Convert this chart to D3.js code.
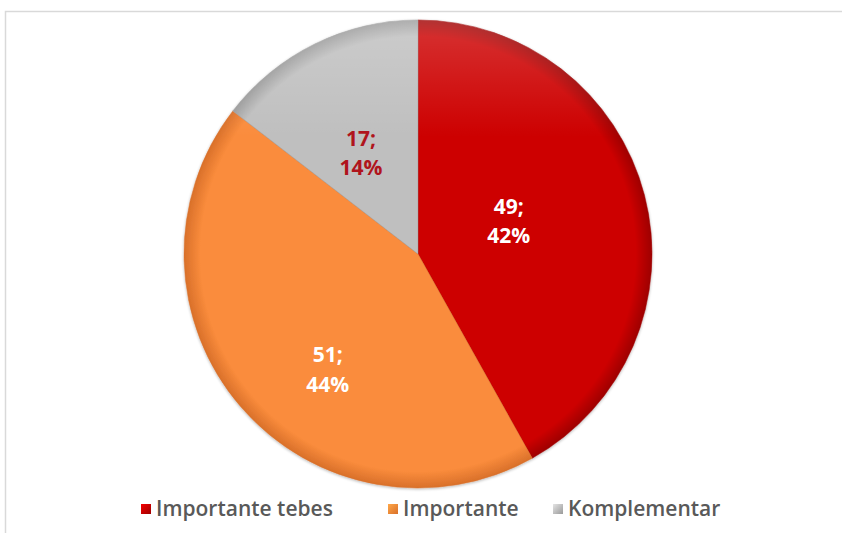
<!DOCTYPE html>
<html>
<head>
<meta charset="utf-8">
<script src="https://cdn.jsdelivr.net/npm/d3@7"></script>
<style>
  body { margin: 0; background: #fff; }
  svg { display: block; }
</style>
</head>
<body>
<div id="chart"></div>
<script>
// data
const categories = ["Importante tebes", "Importante", "Komplementar"];
const values = [49, 51, 17];
const percents = ["42%", "44%", "14%"];

// look
const baseColors = ["#cd0000", "#fa8c3c", "#bfbfbf"];
const rimColors = ["#9e0000", "#d9702a", "#9a9a9a"];
const labelColors = ["#ffffff", "#ffffff", "#b0141c"];
const labelRadius = [97, 146, 117];
const labelShift = [-6, -11, -3]; // degrees
const legendX = [141, 388, 553];

let width = 842, height = 533;
let cx = 418, cy = 254, radius = 234;

let svg = d3.select("#chart").append("svg")
    .attr("width", width).attr("height", height);

let defs = svg.append("defs");

// chart area frame
svg.append("rect")
    .attr("x", 5.5).attr("y", 11.5)
    .attr("width", 860).attr("height", 540)
    .attr("fill", "#fff")
    .attr("stroke", "#d9d9d9")
    .attr("stroke-width", 1.5);

// slice gradients (local coords, pie centre at 0,0)
baseColors.forEach((c, i) => {
    let g = defs.append("radialGradient")
        .attr("id", "grad" + i)
        .attr("gradientUnits", "userSpaceOnUse")
        .attr("cx", 0).attr("cy", 0).attr("r", radius);
    g.append("stop").attr("offset", "0%").attr("stop-color", c);
    g.append("stop").attr("offset", "93%").attr("stop-color", c);
    g.append("stop").attr("offset", "100%").attr("stop-color", rimColors[i]);

    let lg = defs.append("linearGradient")
        .attr("id", "leg" + i)
        .attr("x1", 0).attr("y1", 0).attr("x2", 1).attr("y2", 1);
    lg.append("stop").attr("offset", "0%").attr("stop-color", d3.color(c).brighter(0.5));
    lg.append("stop").attr("offset", "100%").attr("stop-color", rimColors[i]);
});

// light from the top
let hl = defs.append("linearGradient")
    .attr("id", "highlight")
    .attr("gradientUnits", "userSpaceOnUse")
    .attr("x1", 0).attr("y1", -radius).attr("x2", 0).attr("y2", radius);
hl.append("stop").attr("offset", "0%").attr("stop-color", "#fff").attr("stop-opacity", 0.2);
hl.append("stop").attr("offset", "25%").attr("stop-color", "#fff").attr("stop-opacity", 0);
hl.append("stop").attr("offset", "100%").attr("stop-color", "#fff").attr("stop-opacity", 0);

let shadow = defs.append("filter").attr("id", "shadow")
    .attr("x", "-10%").attr("y", "-10%").attr("width", "120%").attr("height", "120%");
shadow.append("feGaussianBlur").attr("in", "SourceAlpha").attr("stdDeviation", 1.5);
shadow.append("feOffset").attr("dx", 0).attr("dy", 1).attr("result", "b");
shadow.append("feComponentTransfer").append("feFuncA").attr("type", "linear").attr("slope", 0.3);
let merge = shadow.append("feMerge");
merge.append("feMergeNode");
merge.append("feMergeNode").attr("in", "SourceGraphic");

let pie = d3.pie().sort(null).value(d => d);
let arcs = pie(values);
let arc = d3.arc().innerRadius(0).outerRadius(radius);

let g = svg.append("g")
    .attr("transform", "translate(" + cx + "," + cy + ")");

g.append("g").attr("filter", "url(#shadow)")
  .selectAll(".slice")
    .data(arcs)
    .enter().append("path")
    .attr("class", "slice")
    .attr("d", arc)
    .attr("fill", (d, i) => "url(#grad" + i + ")")
    .attr("stroke", (d, i) => rimColors[i])
    .attr("stroke-opacity", 0.6)
    .attr("stroke-width", 0.8);

g.append("circle")
    .attr("r", radius)
    .attr("fill", "url(#highlight)");

// data labels
let labels = g.selectAll(".label")
    .data(arcs)
    .enter().append("text")
    .attr("class", "label")
    .attr("transform", (d, i) => {
        let a = (d.startAngle + d.endAngle) / 2 + labelShift[i] * Math.PI / 180;
        return "translate(" + labelRadius[i] * Math.sin(a) + "," + (-labelRadius[i] * Math.cos(a)) + ")";
    })
    .attr("text-anchor", "middle")
    .style("font-family", "'Open Sans', sans-serif")
    .style("font-weight", "bold")
    .style("font-size", "21px")
    .attr("fill", (d, i) => labelColors[i]);

labels.append("tspan").attr("x", 0).attr("dy", "-0.3em").text(d => d.data + ";");
labels.append("tspan").attr("x", 0).attr("dy", "1.42em").text((d, i) => percents[i]);

// legend
let legend = svg.append("g")
    .selectAll(".legend-item")
    .data(categories)
    .enter().append("g")
    .attr("class", "legend-item")
    .attr("transform", (d, i) => "translate(" + legendX[i] + ",509)");

legend.append("rect")
    .attr("x", 0).attr("y", -5)
    .attr("width", 10).attr("height", 10)
    .attr("fill", (d, i) => "url(#leg" + i + ")");

legend.append("text")
    .attr("x", 15)
    .attr("y", 0)
    .attr("dy", "0.35em")
    .style("font-family", "'Open Sans', sans-serif")
    .style("font-size", "21px")
    .style("font-weight", "600")
    .attr("fill", "#595959")
    .text(d => d);
</script>
</body>
</html>
